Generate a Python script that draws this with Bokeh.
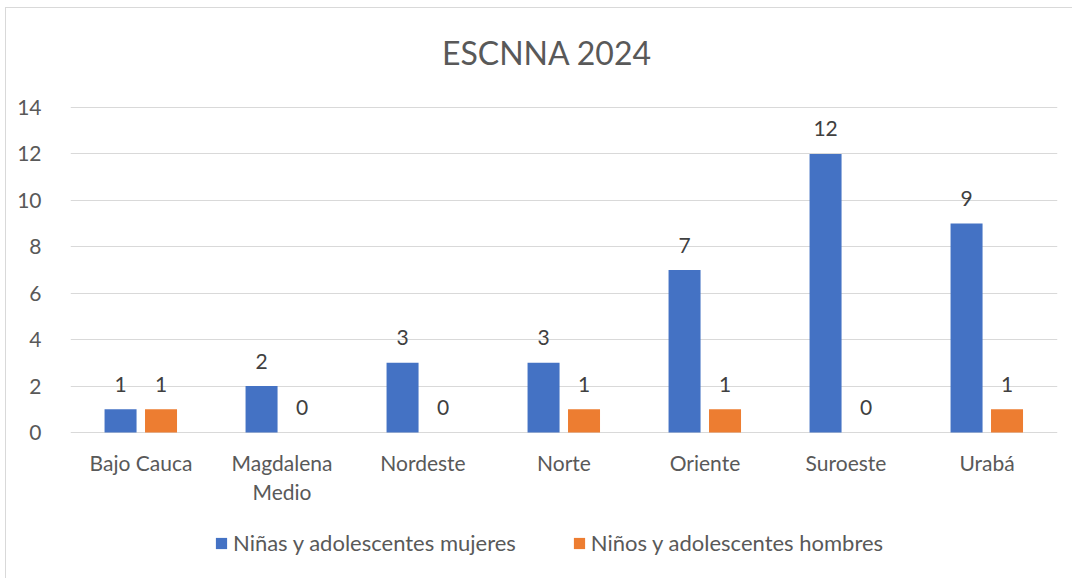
from bokeh.plotting import figure
from bokeh.models import ColumnDataSource, FactorRange, Range1d, Legend, LegendItem, Label
from bokeh.transform import dodge
from bokeh.core.properties import value
from bokeh.embed import file_html
from bokeh.resources import INLINE

title_text = "ESCNNA 2024"
categories = ["Bajo Cauca", "Magdalena\nMedio", "Nordeste", "Norte", "Oriente", "Suroeste", "Urabá"]
ninas = [1, 2, 3, 3, 7, 12, 9]
ninos = [1, 0, 0, 1, 1, 0, 1]
series_names = ["Niñas y adolescentes mujeres", "Niños y adolescentes hombres"]
y_ticks = [0, 2, 4, 6, 8, 10, 12, 14]

FONT = "Lato"
BLUE = "#4472C4"
ORANGE = "#ED7D31"

src = ColumnDataSource(dict(
    cat=categories, ninas=ninas, ninos=ninos,
    ninas_t=[str(v) for v in ninas], ninos_t=[str(v) for v in ninos],
    base=[0] * len(categories),
))

# frame covers the whole chart height; the area above 14 holds the title,
# the area below zero holds category labels and legend
PX_PER_UNIT = 325 / 14
Y_BOTTOM = -147 / PX_PER_UNIT
Y_TOP = 14 + 99 / PX_PER_UNIT

p = figure(
    x_range=FactorRange(*categories, range_padding=0),
    y_range=Range1d(Y_BOTTOM, Y_TOP),
    width=1067, height=571,
    output_backend="svg", toolbar_location=None,
    min_border_left=64, min_border_right=16, min_border_top=0, min_border_bottom=0,
)
p.styles = {"border-left": "1px solid #d9d9d9", "border-top": "1px solid #d9d9d9",
            "margin-left": "5px", "margin-top": "7px"}

p.add_layout(Label(x=len(categories) / 2, y=14 + 55 / PX_PER_UNIT, x_offset=-17,
                   text=title_text, text_align="center", text_baseline="middle",
                   text_font=FONT, text_font_size="32px", text_color="#595959"))

r1 = p.vbar(x=dodge("cat", -0.145, range=p.x_range), top="ninas", width=0.227,
            source=src, color=BLUE, line_color=None)
r2 = p.vbar(x=dodge("cat", 0.142, range=p.x_range), top="ninos", width=0.227,
            source=src, color=ORANGE, line_color=None)

for off, col, txt in [(-0.145, "ninas", "ninas_t"), (0.142, "ninos", "ninos_t")]:
    p.text(x=dodge("cat", off, range=p.x_range), y=col, text=txt, source=src,
           text_align="center", text_baseline="middle", y_offset=-25,
           text_font_size="21px", text_color="#404040", text_font=value(FONT))

# category labels below the zero line
p.text(x="cat", y="base", text="cat", source=src, text_align="center",
       text_baseline="top", y_offset=17, text_line_height=1.18,
       text_font_size="21px", text_color="#595959", text_font=value(FONT))

p.yaxis.ticker = y_ticks
p.ygrid.grid_line_color = "#d9d9d9"
p.ygrid.grid_line_width = 1
p.xgrid.grid_line_color = None
p.outline_line_color = None
p.xaxis.visible = False

p.yaxis.axis_line_color = None
p.yaxis.major_tick_line_color = None
p.yaxis.minor_tick_line_color = None
p.yaxis.major_label_text_font = FONT
p.yaxis.major_label_text_font_size = "21px"
p.yaxis.major_label_text_color = "#595959"
p.yaxis.major_label_standoff = 23

legend = Legend(items=[LegendItem(label=series_names[0], renderers=[r1]),
                       LegendItem(label=series_names[1], renderers=[r2])],
                orientation="horizontal", location=(144, 23),
                padding=0, margin=0, spacing=56, label_standoff=5,
                glyph_width=14, glyph_height=14, label_height=20,
                label_text_font=FONT, label_text_font_size="22px",
                label_text_color="#595959", border_line_color=None,
                background_fill_alpha=0)
p.add_layout(legend, "center")

open("out.html", "w").write(file_html(p, INLINE))
